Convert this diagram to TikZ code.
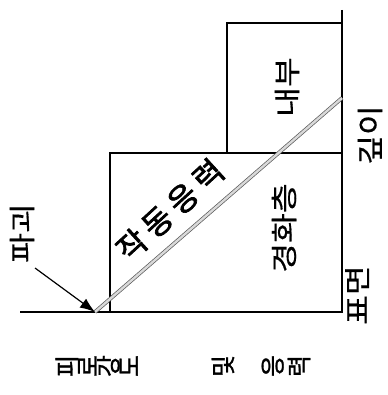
\documentclass[tikz,border=0pt]{standalone}
\usepackage{graphicx}
\usepackage{fontspec}
\newfontfamily\kr{Noto Sans CJK KR}[FakeStretch=1.2, FakeBold=0.5]
\newfontfamily\krs{Noto Sans CJK KR}[FakeStretch=0.95, FakeBold=1.2]
\newfontfamily\krb{Noto Sans CJK KR}[FakeBold=2.2]
\usetikzlibrary{arrows.meta}
\newcommand{\rg}[1]{\rotatebox{90}{#1}}
\tikzset{
  edge/.style={line width=1.2pt, black},
  lbl/.style={font=\kr\fontsize{27}{27}\selectfont, inner sep=0pt, rotate=90},
  capt/.style={font=\krs\fontsize{25}{25}\selectfont, inner sep=0pt},
  band/.style={draw=gray!70!black, line width=0.7pt, double=gray!30, double distance=2.4pt},
  pointer/.style={line width=1.2pt, -{Latex[length=15pt,width=11pt]}}
}
\begin{document}
\begin{tikzpicture}[x=1pt,y=-1pt]
\useasboundingbox (0,0) rectangle (387,395);
\coordinate (gL) at (20,312);
\coordinate (foot) at (95,312);
\coordinate (lbTL) at (110,153);
\coordinate (lbBR) at (342,312);
\coordinate (ubTL) at (227,23);
\coordinate (ubBR) at (342,153);
\coordinate (rTop) at (342,10);
\coordinate (sTop) at (342,98);
\coordinate (arrStart) at (35,268);
% boxes and lines
\draw[edge] (lbTL) rectangle (lbBR);
\draw[edge] (ubTL) rectangle (ubBR);
\draw[edge] (gL) -- (lbBR);
\draw[edge] (rTop) -- (lbBR);
\draw[band] (foot) -- (sTop);
\draw[pointer] (arrStart) -- (foot);
% labels
\node[lbl] (pagoe) at (22,233) {파괴};
\node[lbl] (naebu) at (287,87) {내부};
\node[lbl] (gyeong) at (284,228) {경화층};
\node[lbl] (gipi) at (370,135) {깊이};
\node[lbl] (pyo) at (357,295) {표면};
\node[font=\krb\fontsize{31}{31}\selectfont, inner sep=0pt, rotate=42.5] (stress) at (170,210) {작\hspace{6pt}동\hspace{6pt}응\hspace{6pt}력};
% caption
\node[capt] (cap1) at (97,366) {\rg{피}\rg{로}\rg{강}\rg{도}};
\node[capt] (cap2) at (223,366) {\rg{및}};
\node[capt] (cap3) at (286,366) {\rg{응}\hspace{4pt}\rg{력}};
\end{tikzpicture}
\end{document}
